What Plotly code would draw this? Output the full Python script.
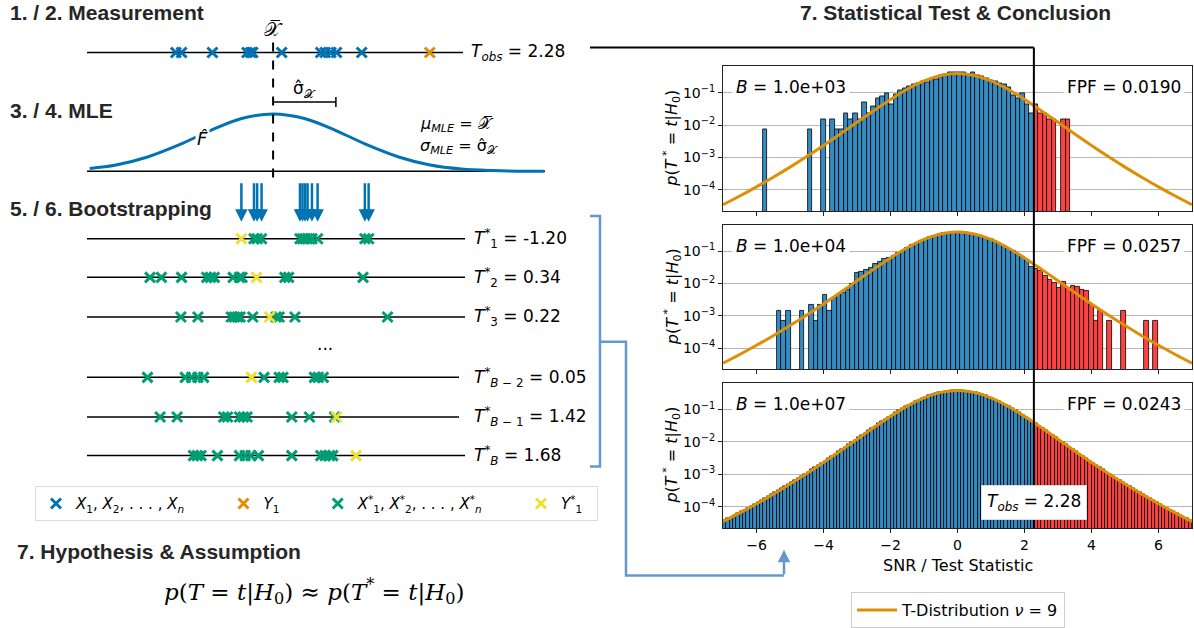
import numpy as np
import plotly.graph_objects as go

W, H = 1194, 628

# ---------------- data ----------------
# measured samples and Y1 (units of sigma_hat, around the sample mean)
measured_x = [-1.51, -1.42, -0.93, -0.38, -0.32, -0.29, 0.17, 0.79, 0.86, 0.95, 1.04, 1.44]
measured_y1 = 2.52
t_obs = 2.28

# bootstrap rows: green X*, yellow Y*, resulting statistic
boot_green = [
    [-0.27, -0.22, -0.15, 0.46, 0.50, 0.54, 0.58, 0.65, 0.74, 1.49, 1.55],
    [-1.92, -1.74, -1.42, -1.02, -0.96, -0.90, -0.60, -0.50, -0.46, 0.22, 0.28, 1.46],
    [-1.43, -1.16, -0.63, -0.58, -0.53, -0.49, -0.29, 0.08, 0.13, 0.38, 1.85],
    [-1.96, -1.36, -1.26, -1.16, -1.07, -0.11, 0.13, 0.19, 0.69, 0.75, 0.83],
    [-1.76, -1.49, -0.75, -0.69, -0.50, -0.44, -0.38, 0.33, 0.61, 1.01],
    [-1.23, -1.17, -1.11, -0.85, -0.50, -0.41, -0.32, -0.20, 0.33, 0.79, 0.86, 0.93, 0.98],
]
boot_yellow = [-0.47, -0.23, -0.02, -0.31, 1.04, 1.35]
boot_t = [-1.20, 0.34, 0.22, 0.05, 1.42, 1.68]
boot_sub = ["1", "2", "3", "<i>B</i> − 2", "<i>B</i> − 1", "<i>B</i>"]

# fitted normal F-hat (offsets in sigma_hat, relative height)
mle_offsets = [-2.92, -2.5, -2.0, -1.5, -1.0, -0.5, 0.0, 0.5, 1.0, 1.5, 2.0, 2.5, 3.0, 3.5, 4.32]
mle_height = [0.05, 0.11, 0.25, 0.46, 0.71, 0.92, 1.0, 0.92, 0.71, 0.46, 0.25, 0.11, 0.04, 0.014, 0.0]

B_values = [1e3, 1e4, 1e7]
fpf_values = [0.0190, 0.0257, 0.0243]

hist1_start, hist1_width = -5.82, 0.135
hist1_counts = [1, 0, 0, 0, 0, 0, 0, 0, 0, 0, 1, 0, 0, 2, 0, 2, 1, 1, 3, 2,
                3, 2, 7, 3, 5, 9, 10, 13, 6, 12, 16, 18, 21, 24, 27, 30, 29, 37, 35, 45,
                50, 57, 58, 57, 55, 50, 55, 47, 42, 36, 33, 30, 26, 24, 19, 11, 9, 13, 6, 3,
                6, 3, 3, 2, 2, 0, 2, 2]

hist2_start, hist2_width = -5.392, 0.137
hist2_counts = [2, 1, 2, 0, 0, 2, 0, 3, 1, 3, 6, 2, 5, 6, 7, 9, 13, 29, 31, 36,
                42, 57, 62, 80, 86, 100, 118, 140, 175, 210, 250, 290, 332, 372, 415, 455, 488, 510, 528, 530,
                522, 505, 478, 445, 402, 362, 318, 276, 236, 201, 166, 138, 112, 92, 72, 45, 40, 33, 24, 18,
                14, 10, 15, 10, 12, 11, 9, 8, 3, 1, 2, 0, 1, 0, 0, 2, 0, 0, 0, 0,
                1, 0, 1]

hist3_start, hist3_width = -7.0, 0.1
hist3_density = [
    0.0000380, 0.0000429, 0.0000486, 0.0000550, 0.0000624, 0.0000708, 0.0000805, 0.0000917, 0.000105, 0.000119,
    0.000136, 0.000156, 0.000179, 0.000205, 0.000236, 0.000271, 0.000313, 0.000361, 0.000417, 0.000483,
    0.000559, 0.000649, 0.000754, 0.000877, 0.00102, 0.00119, 0.00139, 0.00163, 0.00191, 0.00224,
    0.00262, 0.00308, 0.00363, 0.00427, 0.00503, 0.00594, 0.00700, 0.00827, 0.00976, 0.0115,
    0.0136, 0.0161, 0.0190, 0.0224, 0.0265, 0.0312, 0.0366, 0.0430, 0.0504, 0.0589,
    0.0687, 0.0798, 0.0924, 0.1065, 0.1221, 0.1394, 0.1582, 0.1785, 0.1999, 0.2223,
    0.2453, 0.2684, 0.2910, 0.3127, 0.3328, 0.3505, 0.3654, 0.3768, 0.3844, 0.3878,
    0.3878, 0.3844, 0.3768, 0.3654, 0.3505, 0.3328, 0.3127, 0.2910, 0.2684, 0.2453,
    0.2223, 0.1999, 0.1785, 0.1582, 0.1394, 0.1221, 0.1065, 0.0924, 0.0798, 0.0687,
    0.0589, 0.0504, 0.0430, 0.0366, 0.0312, 0.0265, 0.0224, 0.0190, 0.0161, 0.0136,
    0.0115, 0.00976, 0.00827, 0.00700, 0.00594, 0.00503, 0.00427, 0.00363, 0.00308, 0.00262,
    0.00224, 0.00191, 0.00163, 0.00139, 0.00119, 0.00102, 0.000877, 0.000754, 0.000649, 0.000559,
    0.000483, 0.000417, 0.000361, 0.000313, 0.000271, 0.000236, 0.000205, 0.000179, 0.000156, 0.000136,
    0.000119, 0.000105, 0.0000917, 0.0000805, 0.0000708, 0.0000624, 0.0000550, 0.0000486, 0.0000429, 0.0000380,
]

tdist_x = [-7.0, -6.5, -6.0, -5.5, -5.0, -4.5, -4.0, -3.5, -3.0, -2.5, -2.0, -1.5, -1.0, -0.5, 0.0,
           0.5, 1.0, 1.5, 2.0, 2.5, 3.0, 3.5, 4.0, 4.5, 5.0, 5.5, 6.0, 6.5, 7.0]
tdist_y = [3.49e-5, 6.48e-5, 1.242e-4, 2.461e-4, 5.044e-4, 1.070e-3, 2.346e-3, 5.288e-3, 1.2126e-2,
           2.778e-2, 6.171e-2, 0.1272, 0.2291, 0.3384, 0.3880,
           0.3384, 0.2291, 0.1272, 6.171e-2, 2.778e-2, 1.2126e-2, 5.288e-3, 2.346e-3, 1.070e-3,
           5.044e-4, 2.461e-4, 1.242e-4, 6.48e-5, 3.49e-5]

# ---------------- style ----------------
C_BLUE = "#0173b2"
C_ORANGE = "#de8f05"
C_GREEN = "#029e73"
C_YELLOW = "#ece133"
BAR_BLUE = "#348cc3"
BAR_RED = "#fd4242"
BRACKET = "#6597cd"
TITLE_FONT = dict(family="Liberation Sans", size=21, color="#262626")
MATH_FONT = "DejaVu Sans"
PAD = "\u00a0"


def px(x):
    return x / W


def py(y):
    return 1 - y / H


def pt(x, y):
    return f"{px(x):.5f},{py(y):.5f}"


def mfont(size):
    return dict(family=MATH_FONT, size=size, color="black")


fig = go.Figure()
shapes = []
annotations = []

# ---------------- left diagram ----------------
XBAR_PX, SIG_PX = 271, 63
MEAS_Y = 53
ROW_Y = [241, 280, 320, 381, 421, 460]
BASE_Y, PEAK_H = 173, 58

xbar = float(np.mean(measured_x))
sd = float(np.std(measured_x, ddof=1))

diag = dict(xaxis="x4", yaxis="y4")
mk = dict(symbol="x-thin", size=10)

# horizontal sample lines
for y, x1 in [(MEAS_Y, 463)] + list(zip(ROW_Y, [465, 465, 465, 459, 459, 465])):
    shapes.append(dict(type="line", xref="paper", yref="paper", x0=px(87), x1=px(x1),
                       y0=py(y), y1=py(y), line=dict(color="black", width=1.5), layer="below"))
shapes.append(dict(type="line", xref="paper", yref="paper", x0=px(87), x1=px(545),
                   y0=py(BASE_Y), y1=py(BASE_Y), line=dict(color="black", width=1.5), layer="below"))

# x-bar dashed line and sigma bracket
shapes.append(dict(type="line", xref="x4", yref="y4", x0=xbar, x1=xbar, y0=43, y1=181,
                   line=dict(color="black", width=2, dash="dash")))
shapes.append(dict(type="line", xref="x4", yref="y4", x0=xbar, x1=xbar + sd, y0=103, y1=103,
                   line=dict(color="black", width=1.5)))
shapes.append(dict(type="line", xref="x4", yref="y4", x0=xbar + sd, x1=xbar + sd, y0=98, y1=108,
                   line=dict(color="black", width=1.5)))

# F-hat curve
fig.add_trace(go.Scatter(x=[xbar + sd * o for o in mle_offsets],
                         y=[BASE_Y - PEAK_H * h for h in mle_height],
                         mode="lines", line=dict(color=C_BLUE, width=3, shape="spline"),
                         showlegend=False, hoverinfo="skip", **diag))

fig.add_trace(go.Scatter(x=measured_x, y=[MEAS_Y] * len(measured_x), mode="markers",
                         marker=dict(**mk, color=C_BLUE, line=dict(width=3, color=C_BLUE)),
                         name="<i>X</i><sub>1</sub>, <i>X</i><sub>2</sub>, . . . , <i>X<sub>n</sub></i>" + PAD * 7,
                         legend="legend2", **diag))
fig.add_trace(go.Scatter(x=[measured_y1], y=[MEAS_Y], mode="markers",
                         marker=dict(**mk, color=C_ORANGE, line=dict(width=3, color=C_ORANGE)),
                         name="<i>Y</i><sub>1</sub>" + PAD * 7, legend="legend2", **diag))
gx, gy = [], []
for row, y in zip(boot_green, ROW_Y):
    gx += row
    gy += [y] * len(row)
fig.add_trace(go.Scatter(x=gx, y=gy, mode="markers",
                         marker=dict(**mk, color=C_GREEN, line=dict(width=3, color=C_GREEN)),
                         name="<i>X</i><sup>*</sup><sub>1</sub>, <i>X</i><sup>*</sup><sub>2</sub>, . . . , <i>X</i><sup>*</sup><sub><i>n</i></sub>" + PAD * 7,
                         legend="legend2", **diag))
fig.add_trace(go.Scatter(x=boot_yellow, y=ROW_Y, mode="markers",
                         marker=dict(**mk, color=C_YELLOW, line=dict(width=3, color=C_YELLOW)),
                         name="<i>Y</i><sup>*</sup><sub>1</sub>" + PAD * 2, legend="legend2", **diag))

# bootstrap draw arrows (first resample)
for v in boot_green[0] + [boot_yellow[0]]:
    annotations.append(dict(x=v, y=224, xref="x4", yref="y4", ax=0, ay=-40, text="",
                            showarrow=True, arrowhead=2, arrowsize=1, arrowwidth=2.5,
                            arrowcolor=C_BLUE))

# diagram texts
sec_titles = [("1. / 2. Measurement", 8, 13), ("3. / 4. MLE", 8, 112),
              ("5. / 6. Bootstrapping", 8, 211), ("7. Hypothesis &amp; Assumption", 15, 557)]
for txt, x, y in sec_titles:
    annotations.append(dict(text=f"<b>{txt}</b>", x=px(x), y=py(y), xref="paper", yref="paper",
                            xanchor="left", showarrow=False, font=TITLE_FONT))

XBAR_TXT = "𝒳\u0305"
annotations += [
    dict(text=XBAR_TXT, x=xbar, y=29, xref="x4", yref="y4", showarrow=False, font=mfont(19)),
    dict(text="σ\u0302<sub>𝒳</sub>", x=xbar + 0.5 * sd, y=90, xref="x4", yref="y4",
         showarrow=False, font=mfont(17)),
    dict(text="<i>F\u0302</i>", x=-1.08, y=140, xref="x4", yref="y4", showarrow=False,
         bgcolor="white", font=mfont(18)),
    dict(text=f"<i>μ<sub>MLE</sub></i> = {XBAR_TXT}", x=px(418), y=py(126), xref="paper",
         yref="paper", xanchor="left", showarrow=False, font=mfont(16)),
    dict(text="<i>σ<sub>MLE</sub></i> = σ\u0302<sub>𝒳</sub>", x=px(418), y=py(148), xref="paper",
         yref="paper", xanchor="left", showarrow=False, font=mfont(16)),
    dict(text=f"<i>T<sub>obs</sub></i> = {t_obs:.2f}", x=px(469), y=py(MEAS_Y), xref="paper",
         yref="paper", xanchor="left", showarrow=False, font=mfont(17)),
    dict(text="...", x=px(325), y=py(347), xref="paper", yref="paper", showarrow=False,
         font=mfont(17)),
    dict(text="<i>p</i>(<i>T</i> = <i>t</i>|<i>H</i><sub>0</sub>) ≈ <i>p</i>(<i>T</i><sup>*</sup> = <i>t</i>|<i>H</i><sub>0</sub>)",
         x=px(314), y=py(597), xref="paper", yref="paper", showarrow=False,
         font=dict(family="DejaVu Serif", size=23, color="black")),
]
for sub, tval, y in zip(boot_sub, boot_t, ROW_Y):
    annotations.append(dict(text=f"<i>T</i><sup>*</sup><sub>{sub}</sub> = {tval:.2f}", x=px(472),
                            y=py(y), xref="paper", yref="paper", xanchor="left", showarrow=False,
                            font=mfont(17)))

# ---------------- right histograms ----------------
X0, X1 = 723, 1192
PANEL_TOP = [67, 227, 387]
PANEL_H = 146
YRANGE = [-4.65, -0.19]

hists = [
    (hist1_start, hist1_width, [c / (B_values[0] * hist1_width) for c in hist1_counts]),
    (hist2_start, hist2_width, [c / (B_values[1] * hist2_width) for c in hist2_counts]),
    (hist3_start, hist3_width, hist3_density),
]

layout_axes = {}
for i, (start, w, dens) in enumerate(hists):
    n = "" if i == 0 else str(i + 1)
    xa, ya = "x" + n, "y" + n
    bx, by, rx, ry = [], [], [], []
    for k, d in enumerate(dens):
        if d <= 0:
            continue
        left = start + k * w
        if left >= t_obs - 1e-6:
            rx.append(left + w / 2)
            ry.append(d)
        else:
            bx.append(left + w / 2)
            by.append(d)
    for xs, ys, col in [(bx, by, BAR_BLUE), (rx, ry, BAR_RED)]:
        fig.add_trace(go.Bar(x=xs, y=ys, width=w, marker=dict(color=col, line=dict(color="black", width=0.8)),
                             showlegend=False, xaxis=xa, yaxis=ya, hoverinfo="skip"))
    fig.add_trace(go.Scatter(x=tdist_x, y=tdist_y, mode="lines",
                             line=dict(color=C_ORANGE, width=3, shape="spline"),
                             name="T-Distribution <i>ν</i> = 9", showlegend=(i == 2),
                             xaxis=xa, yaxis=ya))
    top = PANEL_TOP[i]
    layout_axes["xaxis" + n] = dict(domain=[px(X0), px(X1)], range=[-7, 7], anchor=ya,
                                    showline=True, mirror=True, linecolor="#222", linewidth=1,
                                    ticks="outside", ticklen=4, tickcolor="#222",
                                    tickvals=[-6, -4, -2, 0, 2, 4, 6], showticklabels=(i == 2),
                                    showgrid=False, zeroline=False, tickfont=mfont(14))
    layout_axes["yaxis" + n] = dict(domain=[py(top + PANEL_H), py(top)], type="log", range=YRANGE,
                                    anchor=xa, showline=True, mirror=True, linecolor="#222",
                                    linewidth=1, ticks="outside", ticklen=4, tickcolor="#222",
                                    tickvals=[1e-4, 1e-3, 1e-2, 1e-1],
                                    ticktext=["10<sup>−4</sup>", "10<sup>−3</sup>", "10<sup>−2</sup>",
                                              "10<sup>−1</sup>"],
                                    showgrid=True, gridcolor="#b8b8b8", gridwidth=1, zeroline=False,
                                    tickfont=mfont(14))
    annotations.append(dict(text=f"<i>B</i> = {B_values[i]:.1e}", x=px(732), y=py(top + 21),
                            xref="paper", yref="paper", xanchor="left", showarrow=False,
                            bgcolor="white", borderpad=3, font=mfont(17)))
    annotations.append(dict(text=f"FPF = {fpf_values[i]:.4f}", x=px(1185), y=py(top + 21),
                            xref="paper", yref="paper", xanchor="right", showarrow=False,
                            bgcolor="white", borderpad=3, font=mfont(17)))
    annotations.append(dict(text="<i>p</i>(<i>T</i><sup> *</sup> = <i>t</i>|<i>H</i><sub>0</sub>)",
                            x=px(672), y=py(top + PANEL_H / 2), xref="paper", yref="paper",
                            textangle=-90, showarrow=False, font=mfont(16)))

tobs_px = X0 + (t_obs + 7) / 14 * (X1 - X0)
annotations += [
    dict(text="<b>7. Statistical Test &amp; Conclusion</b>", x=px(956), y=py(13), xref="paper",
         yref="paper", showarrow=False, font=TITLE_FONT),
    dict(text="SNR / Test Statistic", x=px(958), y=py(571), xref="paper", yref="paper",
         showarrow=False, font=mfont(16)),
    dict(text=f"<i>T<sub>obs</sub></i> = {t_obs:.2f}", x=t_obs, y=py(507), xref="x3", yref="paper",
         showarrow=False, bgcolor="white", bordercolor="#dddddd", borderwidth=1, borderpad=5,
         font=mfont(17)),
    dict(x=px(784), y=py(555), xref="paper", yref="paper", ax=0, ay=26, text="", showarrow=True,
         arrowhead=2, arrowsize=1, arrowwidth=2.5, arrowcolor=BRACKET),
]
for a in annotations:
    a.setdefault("xanchor", "center")
    a.setdefault("yanchor", "middle")

# connector from T_obs to the test panels
shapes.append(dict(type="line", xref="paper", yref="paper", x0=px(590), x1=px(tobs_px),
                   y0=py(48), y1=py(48), line=dict(color="black", width=2)))
shapes.append(dict(type="line", xref="x3", yref="paper", x0=t_obs, x1=t_obs,
                   y0=py(PANEL_TOP[2] + PANEL_H), y1=py(48), line=dict(color="black", width=2)))
# bootstrap bracket to the histogram
shapes.append(dict(type="path", xref="paper", yref="paper",
                   path=f"M{pt(590, 218)} L{pt(600, 218)} L{pt(600, 471)} L{pt(590, 471)}",
                   line=dict(color=BRACKET, width=2.5)))
shapes.append(dict(type="path", xref="paper", yref="paper",
                   path=f"M{pt(600, 345)} L{pt(626, 345)} L{pt(626, 581)} L{pt(784, 581)}",
                   line=dict(color=BRACKET, width=2.5)))

fig.update_layout(
    width=W, height=H, margin=dict(l=0, r=0, t=0, b=0),
    paper_bgcolor="white", plot_bgcolor="white", barmode="overlay", bargap=0,
    xaxis4=dict(domain=[0, px(600)], range=[-XBAR_PX / SIG_PX, (600 - XBAR_PX) / SIG_PX],
                visible=False, anchor="y4"),
    yaxis4=dict(domain=[0, 1], range=[H, 0], visible=False, anchor="x4"),
    legend=dict(x=px(958), y=py(598), xanchor="center", yanchor="top", bgcolor="white",
                bordercolor="#cccccc", borderwidth=1, itemwidth=40, font=mfont(16)),
    legend2=dict(x=px(35), y=py(491), xanchor="left", yanchor="top", orientation="h",
                 bgcolor="white", bordercolor="#dddddd", borderwidth=1, font=mfont(15)),
    shapes=shapes, annotations=annotations, **layout_axes,
)

fig.write_html("out.html", config={"displayModeBar": False},
               post_script="document.body.style.margin='0px';")
